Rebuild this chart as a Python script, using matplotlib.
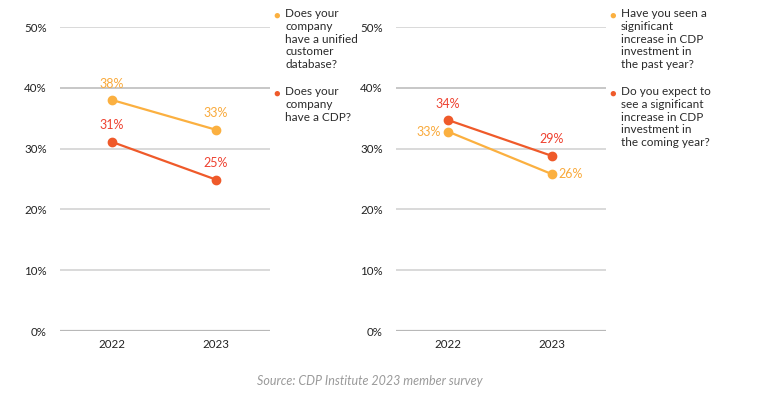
import matplotlib
matplotlib.use("Agg")
import matplotlib.pyplot as plt

plt.rcParams['font.family'] = ['Lato', 'DejaVu Sans']

years = ["2022", "2023"]
left_unified = [38.0, 33.1]
left_cdp = [31.1, 24.9]
right_past = [32.8, 25.8]
right_coming = [34.7, 28.8]
left_unified_labels = ["38%", "33%"]
left_cdp_labels = ["31%", "25%"]
right_past_labels = ["33%", "26%"]
right_coming_labels = ["34%", "29%"]
yticks = [0, 10, 20, 30, 40, 50]
ytick_labels = ["0%", "10%", "20%", "30%", "40%", "50%"]

left_legend = ["Does your\ncompany\nhave a unified\ncustomer\ndatabase?", "Does your\ncompany\nhave a CDP?"]
right_legend = ["Have you seen a\nsignificant\nincrease in CDP\ninvestment in\nthe past year?",
                "Do you expect to\nsee a significant\nincrease in CDP\ninvestment in\nthe coming year?"]

YEL = "#FBB040"
RED = "#EF5A2A"
YEL_T = "#F9A93A"
RED_T = "#EE4130"
GRID = "#cfcfcf"
TXT = "#2a2a2a"

fig = plt.figure(figsize=(7.64, 4.03), dpi=100)
W, H = 764, 403

def make_ax(x0):
    ax = fig.add_axes([x0 / W, 1 - 331 / H, 210 / W, 304 / H])
    ax.set_xlim(-0.5, 1.52)
    ax.set_ylim(0, 50)
    ax.set_yticks(yticks)
    ax.set_yticklabels(ytick_labels)
    ax.set_xticks([0, 1])
    ax.set_xticklabels(years)
    for s in ax.spines.values():
        s.set_visible(False)
    ax.tick_params(length=0, labelsize=8.3, colors="#222222")
    ax.tick_params(axis='y', pad=9.5)
    ax.tick_params(axis='x', pad=6)
    for y in yticks:
        ax.axhline(y, color="#b8b8b8" if y in (0, 40) else GRID, lw=1.6 if y == 0 else 1.1, zorder=0)
    ax.patch.set_alpha(0)
    return ax

xs = [0, 1]
FS = 9

axL = make_ax(60)
axL.plot(xs, left_unified, color=YEL, lw=1.6, marker='o', ms=6, clip_on=False)
axL.plot(xs, left_cdp, color=RED, lw=1.6, marker='o', ms=6, clip_on=False)
for x, v, t in zip(xs, left_unified, left_unified_labels):
    axL.annotate(t, (x, v), xytext=(0, 7.5), textcoords='offset points', ha='center', va='bottom', color=YEL_T, fontsize=FS)
for x, v, t in zip(xs, left_cdp, left_cdp_labels):
    axL.annotate(t, (x, v), xytext=(0, 7.5), textcoords='offset points', ha='center', va='bottom', color=RED_T, fontsize=FS)

axR = make_ax(396)
axR.plot(xs, right_past, color=YEL, lw=1.6, marker='o', ms=6, clip_on=False)
axR.plot(xs, right_coming, color=RED, lw=1.6, marker='o', ms=6, clip_on=False)
axR.annotate(right_past_labels[0], (0, right_past[0]), xytext=(-5, 0), textcoords='offset points', ha='right', va='center', color=YEL_T, fontsize=FS)
axR.annotate(right_past_labels[1], (1, right_past[1]), xytext=(5, 0), textcoords='offset points', ha='left', va='center', color=YEL_T, fontsize=FS)
for x, v, t in zip(xs, right_coming, right_coming_labels):
    axR.annotate(t, (x, v), xytext=(0, 7.5), textcoords='offset points', ha='center', va='bottom', color=RED_T, fontsize=FS)

def legend(xm, entries, ys):
    for (txt, col), y in zip(entries, ys):
        fig.text(xm / W, 1 - y / H, "\u25CF", color=col, fontsize=8, ha='center', va='center')
        fig.text((xm + 8) / W, 1 - (y - 7) / H, txt, color=TXT, fontsize=8.5, ha='left', va='top', linespacing=1.2)

legend(277, [(left_legend[0], YEL), (left_legend[1], RED)], [15, 93])
legend(613, [(right_legend[0], YEL), (right_legend[1], RED)], [15, 93])

fig.text(370 / W, 1 - 381 / H, "Source: CDP Institute 2023 member survey", color="#9a9a9a", fontsize=9, style='italic', ha='center', va='center')

fig.savefig("out.png", dpi=100)
